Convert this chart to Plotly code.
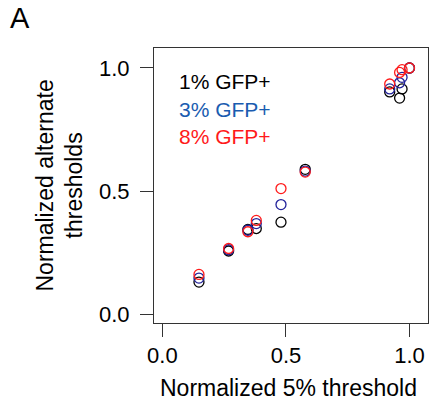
import plotly.graph_objects as go

# Data
x_5pct = [0.148, 0.268, 0.346, 0.380, 0.480, 0.578, 0.920, 0.960, 0.970, 1.000]
y_1pct = [0.132, 0.258, 0.345, 0.349, 0.375, 0.589, 0.903, 0.878, 0.915, 1.000]
y_3pct = [0.148, 0.263, 0.342, 0.369, 0.446, 0.582, 0.915, 0.940, 0.962, 1.000]
y_8pct = [0.163, 0.268, 0.336, 0.382, 0.511, 0.578, 0.935, 0.982, 0.993, 1.000]

series_names = ["1% GFP+", "3% GFP+", "8% GFP+"]
marker_colors = ["#000000", "#22229a", "#ff1a1a"]
text_colors = ["#000000", "#1a5cb0", "#ff1a1a"]
tick_vals = [0.0, 0.5, 1.0]
tick_text = ["0.0", "0.5", "1.0"]

FONT = "Liberation Sans, Arial, Helvetica, sans-serif"

fig = go.Figure()
for name, ys, col in zip(series_names, [y_1pct, y_3pct, y_8pct], marker_colors):
    fig.add_trace(go.Scatter(
        x=x_5pct, y=ys, mode="markers", name=name,
        marker=dict(symbol="circle-open", size=10, color=col,
                    line=dict(width=1.3, color=col)),
        showlegend=False,
    ))

axis_common = dict(
    showgrid=False, zeroline=False, showline=True, mirror=True,
    linecolor="#333333", linewidth=1,
    ticks="outside", ticklen=13, tickwidth=1, tickcolor="#333333",
    tickvals=tick_vals, ticktext=tick_text,
    tickfont=dict(family=FONT, size=22, color="#000000"),
)

fig.update_layout(
    width=430, height=410,
    margin=dict(l=154, r=2, t=48, b=87),
    paper_bgcolor="white", plot_bgcolor="white",
    xaxis=dict(range=[-0.034, 1.075], **axis_common),
    yaxis=dict(range=[-0.034, 1.081], ticklabelstandoff=6, **axis_common),
    font=dict(family=FONT),
)

# Legend as coloured text
legend_y = [0.944, 0.832, 0.723]
for name, col, ly in zip(series_names, text_colors, legend_y):
    fig.add_annotation(x=0.058, y=ly, xref="x", yref="y", text=name,
                       showarrow=False, xanchor="left", yanchor="middle",
                       font=dict(family=FONT, size=21, color=col))

# Axis titles
fig.add_annotation(x=(288 - 154) / 274, y=-(388 - 322.7) / 275, xref="paper", yref="paper",
                   text="Normalized 5% threshold", showarrow=False,
                   xanchor="center", yanchor="middle",
                   font=dict(family=FONT, size=23, color="#000000"))
fig.add_annotation(x=-(154 - 59) / 274, y=0.5, xref="paper", yref="paper",
                   text="Normalized alternate<br>thresholds", showarrow=False,
                   textangle=-90, xanchor="center", yanchor="middle",
                   font=dict(family=FONT, size=23, color="#000000"))

# Panel label
fig.add_annotation(x=-(154 - 8) / 274, y=1 + (48 - 18) / 275, xref="paper", yref="paper",
                   text="A", showarrow=False, xanchor="left", yanchor="middle",
                   font=dict(family=FONT, size=29, color="#000000"))

fig.write_html("out.html")
